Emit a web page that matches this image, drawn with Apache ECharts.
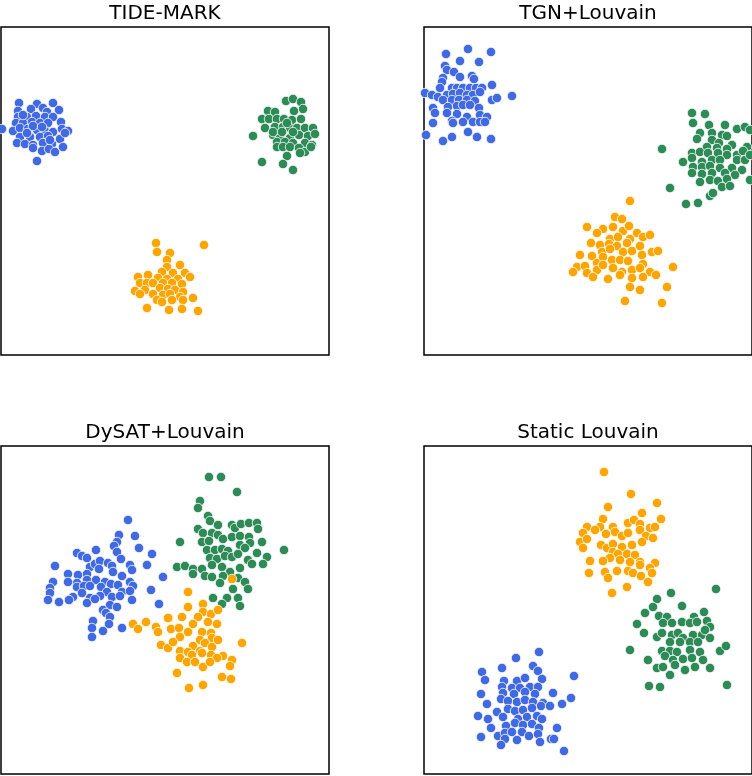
<!DOCTYPE html>
<html>
<head>
<meta charset="utf-8">
<script src="https://cdn.jsdelivr.net/npm/echarts@6/dist/echarts.min.js"></script>
<style>
  html, body { margin: 0; padding: 0; background: #fff; }
  #main { width: 752px; height: 776px; }
</style>
</head>
<body>
<div id="main"></div>
<script>
// panel titles, in reading order
var panelTitles = ['TIDE-MARK', 'TGN+Louvain', 'DySAT+Louvain', 'Static Louvain'];

// embedding coords per panel (0..328 both ways, y grows downward)
// TIDE-MARK
var tideBlue = [[18,76],[36,77],[52,76],[17,84],[30,82],[42,81],[46,85],[58,83],[17,90],[26,90],[35,89],[44,90],[52,90],[15,96],[22,96],[31,95],[39,96],[47,96],[60,95],[1,102],[12,104],[19,101],[27,102],[36,103],[44,104],[52,105],[61,102],[67,104],[19,110],[29,110],[39,110],[47,109],[59,112],[64,106],[16,116],[24,117],[32,118],[42,116],[51,117],[32,121],[41,124],[48,122],[54,125],[62,120],[36,134],[22,88],[32,99],[41,100],[26,106],[49,113]];
var tideGreen = [[285,74],[292,72],[300,75],[302,82],[267,84],[274,85],[293,84],[261,92],[268,92],[276,92],[283,92],[291,93],[300,92],[264,101],[274,100],[282,100],[289,101],[296,101],[304,101],[312,101],[252,109],[272,108],[279,111],[289,111],[298,108],[307,109],[314,107],[276,115],[284,115],[292,116],[304,116],[311,118],[276,120],[282,120],[289,120],[298,121],[304,125],[310,120],[299,126],[286,129],[261,135],[282,137],[292,143],[272,105],[281,105],[292,105],[286,96]];
var tideOrange = [[155,216],[203,218],[156,225],[169,226],[166,233],[179,238],[166,240],[161,245],[172,246],[184,246],[189,250],[137,250],[147,248],[157,251],[166,252],[177,252],[139,256],[146,256],[152,256],[162,256],[171,256],[181,257],[134,264],[144,263],[159,261],[167,262],[174,263],[182,265],[139,267],[152,267],[162,268],[169,267],[179,270],[156,273],[161,275],[171,273],[182,273],[192,271],[146,281],[168,283],[181,282],[197,284]];

// TGN+Louvain
var tgnBlue = [[44,22],[67,25],[22,27],[36,34],[55,35],[21,39],[23,43],[30,45],[36,50],[48,49],[50,52],[19,51],[18,55],[68,58],[16,61],[28,61],[33,61],[39,61],[46,61],[52,61],[58,61],[1,66],[8,68],[14,70],[23,68],[29,67],[36,66],[43,68],[49,68],[56,65],[68,73],[73,71],[88,69],[19,73],[28,73],[35,73],[43,73],[51,74],[24,80],[33,79],[39,78],[46,78],[9,81],[11,86],[23,86],[33,87],[43,90],[55,81],[56,88],[63,90],[28,94],[39,95],[49,95],[56,95],[61,95],[9,96],[29,96],[2,108],[19,114],[28,110],[44,105],[53,110],[67,112]];
var tgnGreen = [[268,86],[281,87],[269,96],[285,98],[301,98],[313,102],[321,100],[276,106],[288,106],[298,108],[273,112],[288,113],[303,109],[295,116],[308,118],[323,120],[238,122],[283,120],[293,121],[303,122],[268,126],[276,125],[284,126],[294,126],[303,128],[313,128],[319,124],[259,135],[268,131],[278,135],[288,133],[296,133],[313,133],[321,133],[269,140],[278,140],[286,139],[296,141],[308,141],[318,143],[268,146],[278,147],[288,146],[301,146],[311,148],[276,155],[286,153],[294,154],[303,152],[298,160],[306,159],[246,161],[286,169],[289,166],[262,177],[274,176],[326,103],[326,128],[326,153]];
var tgnOrange = [[206,174],[191,190],[198,192],[163,200],[179,202],[189,200],[199,204],[205,199],[173,206],[186,212],[194,210],[206,212],[213,206],[219,210],[226,208],[167,216],[176,218],[185,217],[193,219],[203,216],[216,219],[156,228],[168,229],[178,225],[186,222],[199,225],[208,224],[218,228],[228,225],[234,224],[153,240],[161,239],[173,236],[179,230],[188,233],[196,233],[204,234],[219,237],[149,245],[163,246],[173,243],[179,238],[189,241],[198,245],[208,243],[216,241],[226,245],[232,248],[249,240],[169,250],[184,252],[196,248],[208,251],[219,250],[206,260],[216,263],[243,260],[201,274],[238,276]];

// DySAT+Louvain
var dysatBlue = [[127,74],[118,89],[134,90],[116,96],[113,100],[138,102],[76,107],[81,110],[86,112],[95,104],[116,106],[151,108],[120,113],[54,120],[89,121],[94,118],[99,115],[107,117],[111,120],[129,119],[131,124],[146,119],[67,128],[77,129],[86,128],[98,123],[112,126],[121,130],[52,136],[76,137],[86,134],[95,134],[104,136],[110,138],[117,139],[129,136],[132,140],[162,131],[49,142],[76,141],[83,140],[89,140],[100,141],[106,146],[121,146],[129,145],[150,144],[49,147],[72,151],[81,147],[89,152],[99,150],[111,151],[119,150],[131,154],[47,154],[58,156],[68,154],[86,157],[94,153],[109,159],[116,161],[158,158],[102,164],[105,167],[109,171],[92,175],[108,178],[91,182],[102,185],[121,182],[91,191],[67,136]];
var dysatGreen = [[208,31],[220,31],[236,46],[199,55],[197,62],[207,70],[209,75],[217,79],[197,83],[202,87],[211,87],[217,89],[231,79],[234,82],[240,78],[248,77],[256,77],[257,83],[179,96],[201,96],[208,95],[222,93],[231,91],[239,90],[248,91],[249,97],[261,96],[206,104],[214,104],[221,103],[227,105],[239,99],[244,102],[256,107],[283,104],[209,112],[216,113],[224,110],[231,111],[237,108],[247,114],[266,111],[262,118],[176,121],[184,120],[192,123],[201,123],[211,119],[221,121],[229,126],[239,122],[251,118],[192,128],[204,130],[211,131],[222,130],[237,132],[244,136],[219,137],[232,143],[247,143],[212,152],[226,152],[237,152],[239,160],[221,158]];
var dysatOrange = [[187,146],[202,158],[187,161],[202,166],[210,168],[217,164],[168,172],[181,171],[197,171],[207,176],[216,178],[132,178],[145,176],[155,181],[137,183],[157,186],[170,183],[178,182],[187,186],[192,178],[201,186],[210,187],[179,191],[211,192],[199,194],[217,194],[241,197],[160,199],[167,202],[192,200],[204,197],[211,201],[179,205],[187,206],[199,205],[210,209],[222,210],[179,212],[191,209],[201,207],[216,212],[231,214],[186,216],[194,216],[202,221],[209,216],[229,220],[176,227],[221,231],[230,233],[188,242],[202,239],[172,196],[231,133],[167,172]];

// Static Louvain
var staticOrange = [[180,26],[207,48],[233,57],[184,61],[218,67],[179,73],[237,73],[163,81],[176,81],[189,81],[204,77],[210,74],[216,78],[226,82],[231,81],[159,87],[171,84],[182,88],[191,86],[198,90],[204,87],[216,84],[222,90],[229,92],[156,96],[163,93],[177,99],[183,102],[189,98],[198,101],[208,99],[218,96],[159,102],[189,106],[194,108],[203,108],[211,109],[186,112],[196,114],[206,116],[216,116],[231,117],[166,115],[179,115],[216,119],[226,122],[228,127],[165,127],[181,126],[184,132],[193,125],[204,125],[209,127],[217,130],[224,136],[203,141],[188,147]];
var staticGreen = [[247,147],[292,143],[233,153],[229,161],[258,160],[221,167],[235,170],[243,171],[270,171],[280,166],[213,178],[239,177],[248,177],[258,176],[266,177],[273,176],[283,175],[286,181],[220,187],[233,191],[238,187],[248,189],[254,187],[259,192],[269,189],[278,189],[281,184],[246,196],[256,196],[266,196],[274,196],[286,192],[206,204],[238,205],[246,205],[253,206],[266,204],[276,206],[296,205],[302,200],[224,214],[241,210],[249,214],[259,213],[268,212],[279,214],[233,222],[239,221],[251,219],[261,224],[271,221],[286,222],[246,229],[225,240],[236,241],[303,239]];
var staticBlue = [[115,206],[92,212],[78,222],[109,220],[58,226],[114,225],[61,234],[80,235],[93,235],[101,232],[118,233],[150,230],[78,241],[88,242],[96,242],[106,241],[114,241],[57,248],[79,247],[90,248],[101,246],[111,248],[129,247],[77,253],[84,255],[93,256],[101,254],[109,256],[119,257],[63,258],[117,260],[126,260],[138,258],[147,252],[84,263],[91,265],[99,264],[108,262],[73,266],[54,270],[79,271],[94,273],[103,271],[113,270],[118,273],[64,273],[82,280],[91,277],[99,279],[108,278],[115,282],[133,282],[67,282],[74,290],[81,287],[88,286],[98,286],[105,290],[114,288],[57,291],[127,293],[130,293],[81,293],[93,294],[116,296],[77,299],[140,305]];

var BLUE = '#4169E1', GREEN = '#2E8B57', ORANGE = '#FFA500';

// clusters per panel, in draw order
var panels = [
  [[tideBlue, BLUE], [tideGreen, GREEN], [tideOrange, ORANGE]],
  [[tgnBlue, BLUE], [tgnGreen, GREEN], [tgnOrange, ORANGE]],
  [[dysatBlue, BLUE], [dysatGreen, GREEN], [dysatOrange, ORANGE]],
  [[staticBlue, BLUE], [staticGreen, GREEN], [staticOrange, ORANGE]]
];
var gridPos = [[1, 27], [424, 27], [1, 446], [424, 446]]; // left, top
var SIZE = 328;

var chart = echarts.init(document.getElementById('main'), null, { renderer: 'canvas' });

var grid = [], xAxis = [], yAxis = [], series = [], title = [];
gridPos.forEach(function (p, i) {
  grid.push({
    left: p[0], top: p[1], width: SIZE, height: SIZE,
    show: true, borderColor: '#000', borderWidth: 1.5, backgroundColor: '#fff'
  });
  xAxis.push({ gridIndex: i, type: 'value', min: 0, max: SIZE, show: false });
  yAxis.push({ gridIndex: i, type: 'value', min: 0, max: SIZE, inverse: true, show: false });
  title.push({
    text: panelTitles[i], left: p[0] + SIZE / 2, top: p[1] - 23,
    textAlign: 'center', padding: 0,
    textStyle: { fontFamily: 'DejaVu Sans', fontSize: 20, fontWeight: 'normal', color: '#000' }
  });
  panels[i].forEach(function (c) {
    series.push({
      type: 'scatter', xAxisIndex: i, yAxisIndex: i,
      data: c[0], symbolSize: 9.5, clip: true, silent: true,
      itemStyle: { color: c[1], borderColor: '#fff', borderWidth: 0.8, opacity: 1 }
    });
  });
});

chart.setOption({
  animation: false,
  backgroundColor: '#fff',
  title: title,
  grid: grid,
  xAxis: xAxis,
  yAxis: yAxis,
  series: series
});
</script>
</body>
</html>
